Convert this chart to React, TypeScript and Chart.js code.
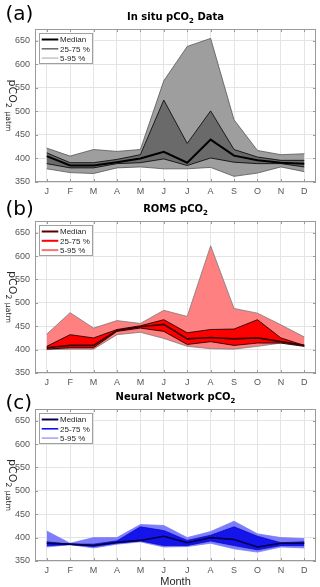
import { useEffect, useRef } from "react";
import { Chart, registerables } from "chart.js";

Chart.register(...registerables);

// ---------- data ----------
const months = ["J", "F", "M", "A", "M", "J", "J", "A", "S", "O", "N", "D"];
const yTickValues = [350, 400, 450, 500, 550, 600, 650];
const yMin = 350;
const yMax = 675;

const insituP95 = [422, 405, 419, 415, 419, 565, 638, 655, 482, 417, 408, 410];
const insituP75 = [412, 391, 391, 398, 408, 524, 432, 501, 419, 403, 396, 396];
const insituMedian = [405, 385, 385, 392, 400, 414, 391, 440, 406, 396, 391, 389];
const insituP25 = [389, 380, 380, 389, 391, 399, 385, 401, 392, 389, 389, 382];
const insituP5 = [378, 370, 368, 380, 382, 378, 378, 381, 362, 369, 382, 372];

const romsP95 = [433, 479, 446, 462, 456, 484, 471, 622, 488, 478, 453, 427];
const romsP75 = [407, 432, 425, 443, 451, 464, 436, 443, 444, 464, 425, 409];
const romsMedian = [404, 409, 409, 441, 449, 454, 423, 426, 423, 425, 417, 409];
const romsP25 = [401, 404, 404, 439, 446, 439, 411, 417, 409, 414, 414, 407];
const romsP5 = [400, 401, 401, 432, 437, 424, 407, 402, 401, 407, 414, 407];

const nnP95 = [414, 388, 400, 400, 428, 426, 400, 413, 435, 408, 400, 398];
const nnP75 = [391, 386, 386, 393, 423, 415, 394, 405, 423, 403, 389, 391];
const nnMedian = [388, 386, 383, 390, 394, 403, 389, 400, 396, 380, 388, 388];
const nnP25 = [383, 385, 381, 388, 393, 383, 383, 393, 383, 374, 383, 383];
const nnP5 = [380, 385, 378, 386, 391, 380, 381, 388, 376, 369, 380, 378];

const legendLabels = ["Median", "25-75 %", "5-95 %"];

type Part = { t: string; sub?: boolean };

const titleA: Part[] = [{ t: "In situ pCO" }, { t: "2", sub: true }, { t: " Data" }];
const titleB: Part[] = [{ t: "ROMS pCO" }, { t: "2", sub: true }];
const titleC: Part[] = [{ t: "Neural Network pCO" }, { t: "2", sub: true }];
const yTitle: Part[] = [{ t: "pCO" }, { t: "2", sub: true }, { t: " " }, { t: "\u03bcatm", sub: true }];
const xTitle = "Month";

const SANS = "'DejaVu Sans', sans-serif";
const TICKFONT = "'Liberation Sans Narrow', 'Liberation Sans', sans-serif";
const LEGFONT = "'Liberation Sans', sans-serif";

type PanelCfg = {
  label: string;
  labelBaseline: number;
  title: Part[];
  top: number;
  height: number;
  padTop: number;
  xAxisH: number;
  p95: number[];
  p75: number[];
  med: number[];
  p25: number[];
  p5: number[];
  fillOuter: string;
  fillInner: string;
  edgeOuter: string;
  edgeInner: string;
  medColor: string;
  medWidth: number;
  legColors: string[];
  legWidths: number[];
  showMonth: boolean;
};

const panels: PanelCfg[] = [
  {
    label: "(a)",
    labelBaseline: 20.4,
    title: titleA,
    top: 0,
    height: 200,
    padTop: 29,
    xAxisH: 18,
    p95: insituP95,
    p75: insituP75,
    med: insituMedian,
    p25: insituP25,
    p5: insituP5,
    fillOuter: "rgb(158,158,158)",
    fillInner: "rgb(106,106,106)",
    edgeOuter: "#555555",
    edgeInner: "#000000",
    medColor: "#000000",
    medWidth: 2,
    legColors: ["#000000", "#666666", "#c4c4c4"],
    legWidths: [2, 1.5, 1.5],
    showMonth: false,
  },
  {
    label: "(b)",
    labelBaseline: 20.4,
    title: titleB,
    top: 195,
    height: 200,
    padTop: 26,
    xAxisH: 22,
    p95: romsP95,
    p75: romsP75,
    med: romsMedian,
    p25: romsP25,
    p5: romsP5,
    fillOuter: "rgb(255,128,128)",
    fillInner: "rgb(255,0,0)",
    edgeOuter: "#7a7a7a",
    edgeInner: "#000000",
    medColor: "#3a0000",
    medWidth: 1.6,
    legColors: ["#5a0000", "#ff0000", "#ff7070"],
    legWidths: [2, 2, 2],
    showMonth: false,
  },
  {
    label: "(c)",
    labelBaseline: 26,
    title: titleC,
    top: 383,
    height: 204,
    padTop: 26,
    xAxisH: 26,
    p95: nnP95,
    p75: nnP75,
    med: nnMedian,
    p25: nnP25,
    p5: nnP5,
    fillOuter: "rgb(125,125,250)",
    fillInner: "rgb(20,20,235)",
    edgeOuter: "rgb(125,125,250)",
    edgeInner: "rgb(10,10,200)",
    medColor: "#000040",
    medWidth: 1.6,
    legColors: ["#000050", "#0000ff", "#a0a0ff"],
    legWidths: [2, 1.5, 1.5],
    showMonth: true,
  },
];

function drawParts(
  ctx: CanvasRenderingContext2D,
  parts: Part[],
  x: number,
  y: number,
  size: number,
  weight: string,
  family: string
) {
  const subSize = size * 0.7;
  const widths = parts.map((p) => {
    ctx.font = `${weight} ${p.sub ? subSize : size}px ${family}`;
    return ctx.measureText(p.t).width;
  });
  const total = widths.reduce((a, b) => a + b, 0);
  let cx = x - total / 2;
  ctx.textAlign = "left";
  ctx.textBaseline = "alphabetic";
  parts.forEach((p, i) => {
    ctx.font = `${weight} ${p.sub ? subSize : size}px ${family}`;
    ctx.fillText(p.t, cx, p.sub ? y + size * 0.3 : y);
    cx += widths[i];
  });
}

function PanelChart({ cfg }: { cfg: PanelCfg }) {
  const ref = useRef<HTMLCanvasElement | null>(null);
  useEffect(() => {
    if (!ref.current) return;
    const decor = {
      id: "decor",
      afterDraw(chart: any) {
        const ctx: CanvasRenderingContext2D = chart.ctx;
        const ca = chart.chartArea;
        const xs = chart.scales.x;
        const ys = chart.scales.y;
        ctx.save();
        // box
        ctx.strokeStyle = "#9a9a9a";
        ctx.lineWidth = 1;
        ctx.strokeRect(Math.round(ca.left) + 0.5, Math.round(ca.top) + 0.5, Math.round(ca.right - ca.left) - 1, Math.round(ca.bottom - ca.top) - 1);
        // inner tick marks
        ctx.beginPath();
        yTickValues.forEach((v) => {
          const py = Math.round(ys.getPixelForValue(v)) + 0.5;
          ctx.moveTo(ca.left, py);
          ctx.lineTo(ca.left + 3, py);
          ctx.moveTo(ca.right, py);
          ctx.lineTo(ca.right - 3, py);
        });
        months.forEach((_, i) => {
          const px = Math.round(xs.getPixelForValue(i)) + 0.5;
          ctx.moveTo(px, ca.bottom);
          ctx.lineTo(px, ca.bottom - 3);
          ctx.moveTo(px, ca.top);
          ctx.lineTo(px, ca.top + 3);
        });
        ctx.stroke();

        // legend
        const lx = ca.left + 4;
        const ly = ca.top + 3.5;
        ctx.fillStyle = "#ffffff";
        ctx.fillRect(lx, ly, 53, 30.5);
        ctx.strokeStyle = "#a0a0a0";
        ctx.lineWidth = 1;
        ctx.strokeRect(Math.round(lx) + 0.5, Math.round(ly) + 0.5, 53, 30);
        legendLabels.forEach((lab, i) => {
          const ry = ly + 7 + i * 9.3;
          ctx.strokeStyle = cfg.legColors[i];
          ctx.lineWidth = cfg.legWidths[i];
          ctx.beginPath();
          ctx.moveTo(lx + 2.7, ry);
          ctx.lineTo(lx + 19.3, ry);
          ctx.stroke();
          ctx.fillStyle = "#262626";
          ctx.font = `8px ${LEGFONT}`;
          ctx.textAlign = "left";
          ctx.textBaseline = "middle";
          ctx.fillText(lab, lx + 21, ry + 0.5);
        });

        // title
        ctx.fillStyle = "#000000";
        drawParts(ctx, cfg.title, (ca.left + ca.right) / 2, ca.top - 9.5, 10, "bold", SANS);

        // panel label
        ctx.font = `20px ${SANS}`;
        ctx.textAlign = "left";
        ctx.textBaseline = "alphabetic";
        ctx.fillStyle = "#000000";
        ctx.fillText(cfg.label, 5.5, cfg.labelBaseline);

        // y axis title (rotated)
        ctx.save();
        ctx.translate(9.3, (ca.top + ca.bottom) / 2);
        ctx.rotate(Math.PI / 2);
        ctx.fillStyle = "#262626";
        drawParts(ctx, yTitle, 0, 0, 11, "normal", SANS);
        ctx.restore();

        // x axis title
        if (cfg.showMonth) {
          ctx.fillStyle = "#262626";
          ctx.font = `11px ${LEGFONT}`;
          ctx.textAlign = "center";
          ctx.textBaseline = "alphabetic";
          ctx.fillText(xTitle, (ca.left + ca.right) / 2, 202);
        }
        ctx.restore();
      },
    };

    const chart = new Chart(ref.current, {
      type: "line",
      data: {
        labels: months,
        datasets: [
          { data: cfg.p95, borderColor: cfg.edgeOuter, borderWidth: 0.8, backgroundColor: cfg.fillOuter, fill: 1, order: 5 },
          { data: cfg.p5, borderColor: cfg.edgeOuter, borderWidth: 0.8, fill: false, order: 4 },
          { data: cfg.p75, borderColor: cfg.edgeInner, borderWidth: 0.8, backgroundColor: cfg.fillInner, fill: 3, order: 3 },
          { data: cfg.p25, borderColor: cfg.edgeInner, borderWidth: 0.8, fill: false, order: 2 },
          { data: cfg.med, borderColor: cfg.medColor, borderWidth: cfg.medWidth, fill: false, order: 1 },
        ] as any,
      },
      options: {
        responsive: false,
        animation: false,
        devicePixelRatio: 1,
        layout: { padding: { top: cfg.padTop, left: 0, right: 4, bottom: 0 } },
        elements: { point: { radius: 0 }, line: { tension: 0 } },
        plugins: { legend: { display: false }, tooltip: { enabled: false }, title: { display: false } },
        scales: {
          x: {
            type: "category",
            offset: true,
            grid: { offset: false, color: "#e4e4e4", drawTicks: false, lineWidth: 1 },
            border: { display: false },
            ticks: { padding: 4, color: "#555555", font: { family: TICKFONT, size: 9 }, maxRotation: 0, autoSkip: false },
            afterFit: (s: any) => {
              s.height = cfg.xAxisH;
            },
          },
          y: {
            type: "linear",
            min: yMin,
            max: yMax,
            afterBuildTicks: (s: any) => {
              s.ticks = yTickValues.map((v) => ({ value: v }));
            },
            grid: { color: "#e4e4e4", drawTicks: false, lineWidth: 1 },
            border: { display: false },
            ticks: { padding: 5, color: "#555555", font: { family: TICKFONT, size: 9 } },
            afterFit: (s: any) => {
              s.width = 35;
            },
          },
        },
      } as any,
      plugins: [decor],
    });
    return () => chart.destroy();
  }, [cfg]);

  return (
    <canvas
      ref={ref}
      width={320}
      height={cfg.height}
      style={{ position: "absolute", left: 0, top: cfg.top, width: 320, height: cfg.height }}
    />
  );
}

export default function App() {
  return (
    <div style={{ position: "absolute", left: 0, top: 0, width: 320, height: 587, background: "#ffffff", overflow: "hidden" }}>
      {panels.map((p) => (
        <PanelChart key={p.label} cfg={p} />
      ))}
    </div>
  );
}
